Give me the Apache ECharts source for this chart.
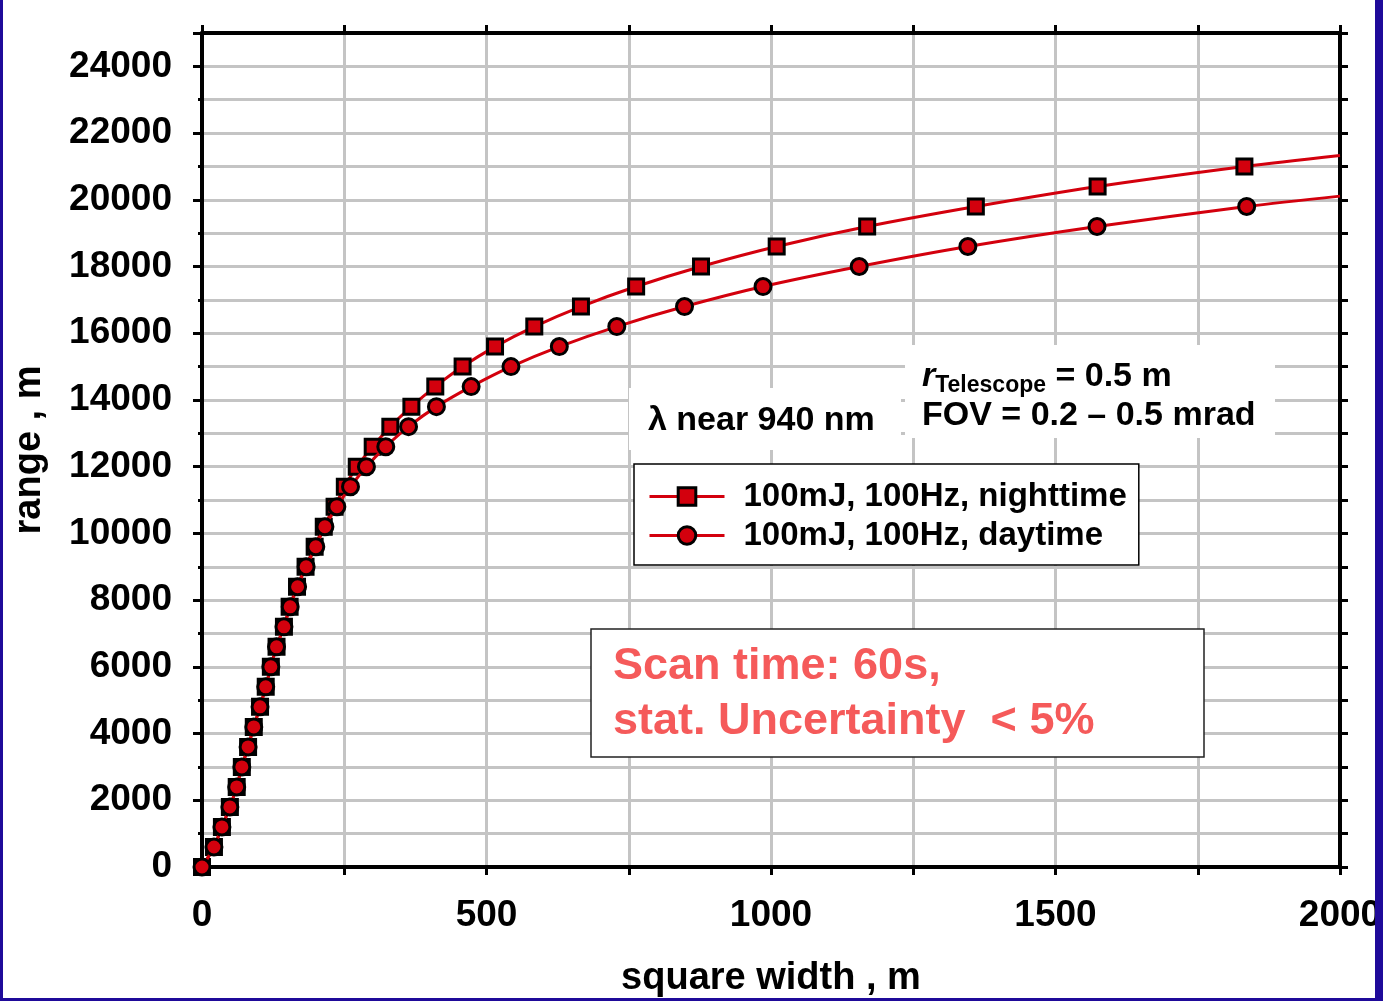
<!DOCTYPE html>
<html>
<head>
<meta charset="utf-8">
<script src="https://cdn.jsdelivr.net/npm/echarts@6/dist/echarts.min.js"></script>
<style>
  body { margin: 0; background: #1f0a9a; }
  #chart { position: absolute; left: 3px; top: 0; width: 1372px; height: 998px; background: #fff; }
</style>
</head>
<body>
<div id="chart"></div>
<script>
// range (m) vs. square width (m)
var nightRange = [0, 600, 1200, 1800, 2400, 3000, 3600, 4200, 4800, 5400, 6000, 6600, 7200, 7800, 8400, 9000,
  9600, 10200, 10800, 11400, 12000, 12600, 13200, 13800, 14400, 15000, 15600, 16200, 16800, 17400, 18000,
  18600, 19200, 19800, 20400, 21000];
var nightWidth = [0, 21, 35, 49, 61, 70, 81, 91, 102, 112, 121, 131, 144, 154, 167, 182,
  198, 214, 233, 251, 272, 300, 331, 368, 410, 458, 515, 584, 666, 763, 877,
  1010, 1169, 1360, 1574, 1832];
var nightEnd = [2000, 21330];

var dayRange = [0, 600, 1200, 1800, 2400, 3000, 3600, 4200, 4800, 5400, 6000, 6600, 7200, 7800, 8400, 9000,
  9600, 10200, 10800, 11400, 12000, 12600, 13200, 13800, 14400, 15000, 15600, 16200, 16800, 17400, 18000,
  18600, 19200, 19800];
var dayWidth = [0, 21, 35, 49, 61, 70, 81, 91, 102, 112, 121, 131, 144, 155, 168, 183,
  200, 216, 237, 261, 289, 323, 363, 412, 473, 543, 628, 729, 848, 986, 1155,
  1346, 1573, 1836];
var dayEnd = [2000, 20110];

var seriesNames = ['100mJ, 100Hz, nighttime', '100mJ, 100Hz, daytime'];

var FONT = '"Liberation Sans", Arial, Helvetica, sans-serif';
var RED = '#d3000d';

function pairs(xs, ys, end) {
    var out = xs.map(function (x, i) { return [x, ys[i]]; });
    // curve runs on to the right edge without a marker
    out.push({ value: end, symbol: 'none' });
    return out;
}

var dom = document.getElementById('chart');
var myChart = echarts.init(dom, null, { renderer: 'canvas' });

var boldText = { fontFamily: FONT, fontWeight: 'bold', color: '#000' };

var option = {
    animation: false,
    textStyle: { fontFamily: FONT },
    grid: { left: 199, right: 35, top: 33, bottom: 131, outerBoundsMode: 'none' },
    xAxis: [
        {
            type: 'value', min: 0, max: 2000, interval: 250, position: 'bottom',
            name: 'square width , m', nameLocation: 'middle', nameGap: 93,
            nameTextStyle: Object.assign({ fontSize: 38 }, boldText),
            axisLine: { onZero: false, lineStyle: { color: '#000', width: 4 } },
            axisTick: { length: 8, lineStyle: { color: '#000', width: 3 } },
            axisLabel: Object.assign({
                fontSize: 37, margin: 30,
                formatter: function (v) { return v % 500 === 0 ? String(v) : ''; }
            }, boldText),
            splitLine: { lineStyle: { color: '#c4c4c4', width: 3 } }
        },
        {
            type: 'value', min: 0, max: 2000, interval: 250, position: 'top',
            axisLine: { onZero: false, lineStyle: { color: '#000', width: 4 } },
            axisTick: { length: 8, lineStyle: { color: '#000', width: 3 } },
            axisLabel: { show: false },
            splitLine: { show: false }
        }
    ],
    yAxis: [
        {
            type: 'value', min: 0, max: 25000, interval: 1000, position: 'left',
            name: 'range , m', nameLocation: 'middle', nameGap: 153, nameRotate: 90,
            nameTextStyle: Object.assign({ fontSize: 38 }, boldText),
            axisLine: { onZero: false, lineStyle: { color: '#000', width: 4 } },
            axisTick: { length: 4, lineStyle: { color: '#000', width: 3 } },
            axisLabel: Object.assign({
                fontSize: 37, margin: 30,
                formatter: function (v) { return (v % 2000 === 0 && v <= 24000) ? String(v) : ''; }
            }, boldText),
            splitLine: { lineStyle: { color: '#c4c4c4', width: 3 } }
        },
        {
            type: 'value', min: 0, max: 25000, interval: 2000, position: 'left',
            axisLine: { show: false },
            axisTick: { length: 9, lineStyle: { color: '#000', width: 3 } },
            axisLabel: { show: false },
            splitLine: { show: false }
        },
        {
            type: 'value', min: 0, max: 25000, interval: 1000, position: 'right',
            axisLine: { onZero: false, lineStyle: { color: '#000', width: 4 } },
            axisTick: { length: 8, lineStyle: { color: '#000', width: 3 } },
            axisLabel: { show: false },
            splitLine: { show: false }
        }
    ],
    legend: {
        orient: 'vertical',
        left: 631, top: 464,
        backgroundColor: '#fff',
        borderColor: '#000', borderWidth: 1.5, borderRadius: 0,
        padding: [15, 12, 12, 14],
        itemWidth: 75, itemHeight: 22, itemGap: 4,
        lineStyle: { width: 3 },
        itemStyle: { borderColor: '#000', borderWidth: 3 },
        textStyle: { fontFamily: FONT, fontSize: 33, fontWeight: 'bold', color: '#000', lineHeight: 35, padding: [0, 0, 0, 14] },
        data: seriesNames
    },
    series: [
        {
            name: seriesNames[0], type: 'line', xAxisIndex: 0, yAxisIndex: 0,
            data: pairs(nightWidth, nightRange, nightEnd),
            smooth: 0.3,
            symbol: 'rect', symbolSize: 15,
            itemStyle: { color: RED, borderColor: '#000', borderWidth: 3 },
            lineStyle: { color: RED, width: 3 },
            z: 3
        },
        {
            name: seriesNames[1], type: 'line', xAxisIndex: 0, yAxisIndex: 0,
            data: pairs(dayWidth, dayRange, dayEnd),
            smooth: 0.3,
            symbol: 'circle', symbolSize: 16,
            itemStyle: { color: RED, borderColor: '#000', borderWidth: 3 },
            lineStyle: { color: RED, width: 3 },
            z: 4
        }
    ],
    graphic: [
        { type: 'rect', z: 10, shape: { x: 626, y: 388, width: 272, height: 62 }, style: { fill: '#fff' } },
        { type: 'rect', z: 10, shape: { x: 902, y: 345, width: 370, height: 93 }, style: { fill: '#fff' } },
        {
            type: 'text', z: 11, x: 645, y: 421,
            style: { text: '\u03bb near 940 nm', fill: '#000', font: 'bold 34px ' + FONT, verticalAlign: 'middle' }
        },
        {
            type: 'text', z: 11, x: 919, y: 377,
            style: {
                text: '{r|r}{s|Telescope}{n| = 0.5 m}',
                verticalAlign: 'middle',
                rich: {
                    r: { fontFamily: FONT, fontWeight: 'bold', fontStyle: 'italic', fontSize: 34, fill: '#000' },
                    s: { fontFamily: FONT, fontWeight: 'bold', fontSize: 23, fill: '#000', padding: [18, 0, 0, 0] },
                    n: { fontFamily: FONT, fontWeight: 'bold', fontSize: 34, fill: '#000' }
                }
            }
        },
        {
            type: 'text', z: 11, x: 919, y: 416,
            style: { text: 'FOV = 0.2 \u2013 0.5 mrad', fill: '#000', font: 'bold 34px ' + FONT, verticalAlign: 'middle' }
        },
        {
            type: 'rect', z: 10, shape: { x: 588, y: 629, width: 613, height: 128 },
            style: { fill: '#fff', stroke: '#222', lineWidth: 1.5 }
        },
        {
            type: 'text', z: 11, x: 610, y: 667,
            style: { text: 'Scan time: 60s,', fill: '#f55a5a', font: 'bold 45px ' + FONT, verticalAlign: 'middle' }
        },
        {
            type: 'text', z: 11, x: 610, y: 722,
            style: { text: 'stat. Uncertainty  < 5%', fill: '#f55a5a', font: 'bold 45px ' + FONT, verticalAlign: 'middle' }
        }
    ]
};

myChart.setOption(option);
window.addEventListener('resize', myChart.resize);
</script>
</body>
</html>
